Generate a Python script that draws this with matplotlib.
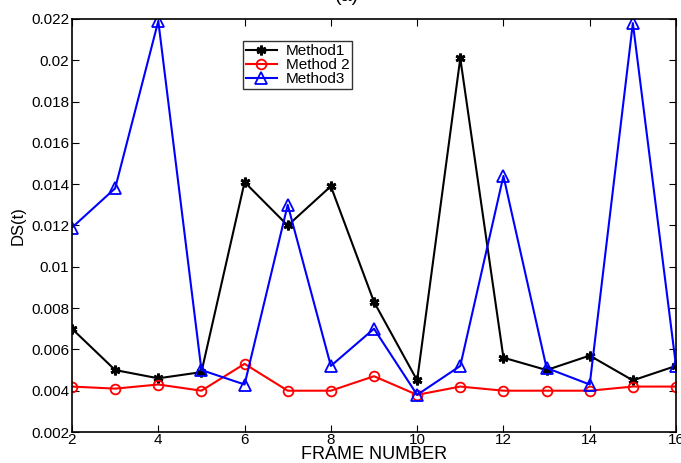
import matplotlib
matplotlib.use("Agg")
import matplotlib.pyplot as plt

plt.rcParams['font.family'] = ['Liberation Sans', 'DejaVu Sans']

frames = list(range(2, 17))
method1 = [0.0070, 0.0050, 0.0046, 0.0049, 0.0141, 0.0120, 0.0139, 0.0083,
           0.0045, 0.0201, 0.0056, 0.0050, 0.0057, 0.0045, 0.0052]
method2 = [0.0042, 0.0041, 0.0043, 0.0040, 0.0053, 0.0040, 0.0040, 0.0047,
           0.0038, 0.0042, 0.0040, 0.0040, 0.0040, 0.0042, 0.0042]
method3 = [0.0119, 0.0138, 0.0219, 0.0050, 0.0043, 0.0130, 0.0052, 0.0070,
           0.0038, 0.0052, 0.0144, 0.0051, 0.0043, 0.0218, 0.0052]

x_ticks = [2, 4, 6, 8, 10, 12, 14, 16]
y_ticks = [0.002, 0.004, 0.006, 0.008, 0.010, 0.012, 0.014, 0.016, 0.018, 0.020, 0.022]
y_tick_labels = ["0.002", "0.004", "0.006", "0.008", "0.01", "0.012", "0.014",
                 "0.016", "0.018", "0.02", "0.022"]

fig = plt.figure(figsize=(6.81, 4.63), dpi=100)
ax = fig.add_axes([72 / 681, 1 - 432 / 463, (676 - 72) / 681, (432 - 19) / 463])

ax.plot(frames, method1, color='black', lw=1.5, marker=(6, 2, 0), ms=7, mew=2,
        label='Method1')
ax.plot(frames, method2, color='red', lw=1.5, marker='o', ms=7, mfc='none', mew=1.3,
        label='Method 2')
ax.plot(frames, method3, color='blue', lw=1.5, marker='^', ms=8, mfc='none', mew=1.3,
        label='Method3')

ax.set_xlim(2, 16)
ax.set_ylim(0.002, 0.022)
ax.set_xticks(x_ticks)
ax.set_xticklabels([str(t) for t in x_ticks], fontsize=11)
ax.set_yticks(y_ticks)
ax.set_yticklabels(y_tick_labels, fontsize=11)
ax.tick_params(direction='in', top=True, right=True, length=5, width=0.8, pad=2)
ax.tick_params(axis='x', pad=0.5)
for s in ax.spines.values():
    s.set_linewidth(1.2)

ax.set_xlabel('FRAME NUMBER', fontsize=13, labelpad=-0.5)
ax.set_ylabel('DS(t)', fontsize=12, labelpad=4)

leg = ax.legend(loc='upper left', bbox_to_anchor=((243 - 72) / 604, 1 - (41 - 19) / 413),
                fontsize=11, frameon=True, fancybox=False, edgecolor='black',
                borderpad=0.2, labelspacing=0.0, handlelength=2.0, handletextpad=0.6,
                borderaxespad=0)
leg.get_frame().set_linewidth(1.0)

fig.text(0.51, 1.008, '(a)', ha='center', va='center', fontsize=14)

fig.savefig('out.png', dpi=100)
